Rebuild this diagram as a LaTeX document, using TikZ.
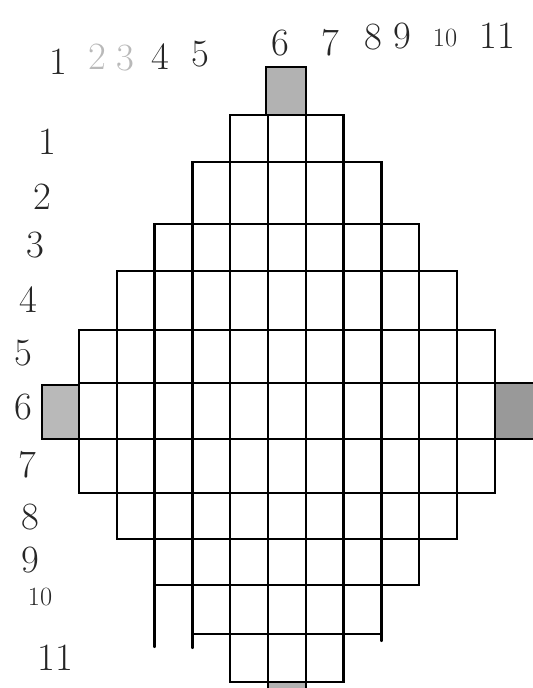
\documentclass[tikz,border=0pt]{standalone}
\usepackage{tikz}

\begin{document}
\begin{tikzpicture}[
  x=0.02cm, y=-0.02cm,
  cell/.style={draw=black, line width=1.3pt, line cap=round},
  plug/.style={draw=black, line width=1.3pt, fill=gray!60},
  num/.style={font=\fontsize{22}{26}\selectfont, text=black!85, inner sep=0pt},
  small/.style={font=\fontsize{15}{18}\selectfont}
]
  \useasboundingbox (0,0) rectangle (532,688);

  \foreach \r/\a/\b/\t/\u in {1/5/7/115/162, 2/4/8/162/224, 3/3/9/224/271,
      4/2/10/271/330, 5/1/11/330/383, 6/1/11/383/439, 7/1/11/439/493,
      8/2/10/493/539, 9/3/9/539/585, 10/4/8/585/634, 11/5/7/634/682}
    \foreach \c in {\a,...,\b}
      \draw[cell] ({79+37.8*(\c-1)}, \t) rectangle ({79+37.8*\c}, \u);
  \draw[cell] (154.6,585) -- (154.6,647);
  \draw[cell] (192.4,634) -- (192.4,648);
  \draw[cell] (381.4,634) -- (381.4,641);

  \draw[plug] (266,67) rectangle (305.8,115);
  \draw[plug, fill=gray!55] (42,385) rectangle (79,439);
  \draw[plug, fill=gray!80] (494.8,383) rectangle (545,439);
  \draw[plug] (268,682) rectangle (305.8,700);

  \foreach \i/\x/\y in {1/58/62, 4/160/57, 5/200/54, 6/280/43, 7/330/43,
      8/373/37, 9/402/36, 11/497/36}
    \node[num] (col\i) at (\x,\y) {\i};
  \node[num, text=gray!55] (col2) at (97,57) {2};
  \node[num, text=gray!55] (col3) at (125,58) {3};
  \node[num, small] (col10) at (445,38) {10};

  \foreach \i/\x/\y in {1/47/142, 2/42/197, 3/35/245, 4/28/300, 5/23/353,
      6/23/407, 7/27/465, 8/30/517, 9/30/560, 11/55/658}
    \node[num] (row\i) at (\x,\y) {\i};
  \node[num, small] (row10) at (40,597) {10};
\end{tikzpicture}
\end{document}
